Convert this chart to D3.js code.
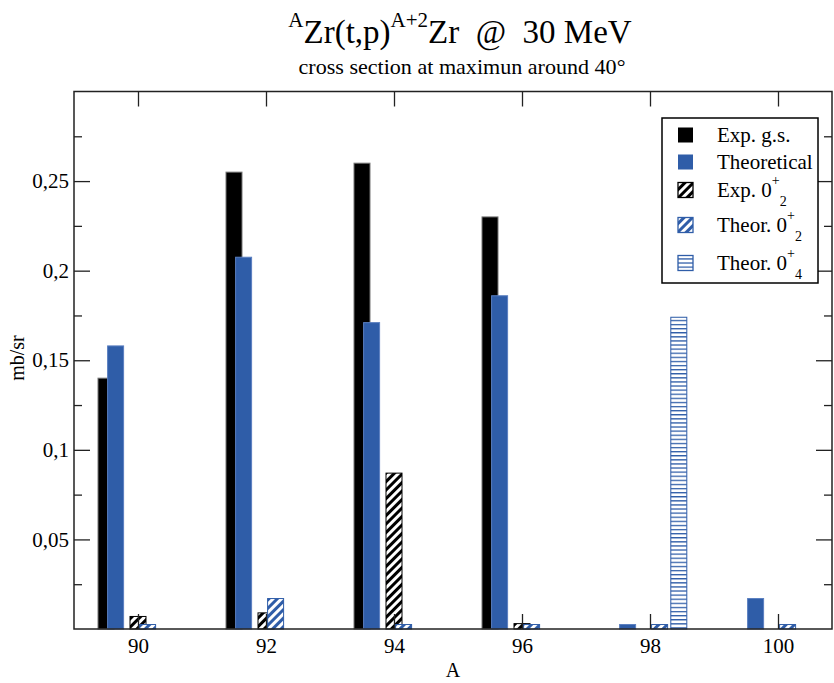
<!DOCTYPE html>
<html><head><meta charset="utf-8">
<script src="https://cdn.jsdelivr.net/npm/d3@7"></script>
<style>
body{margin:0;background:#fff}
text{font-family:"Liberation Serif","Times New Roman",serif;fill:#000}
</style></head><body>
<svg id="c" width="834" height="683" xmlns="http://www.w3.org/2000/svg"></svg>
<script>
// ---------------- data ----------------
const massNumbers = [90, 92, 94, 96, 98, 100];
const expGS   = [0.14, 0.255, 0.26, 0.23, 0, 0];
const theoGS  = [0.158, 0.2075, 0.171, 0.186, 0.0025, 0.017];
const exp02   = [0.007, 0.009, 0.087, 0.003, 0, 0];
const theo02  = [0.0025, 0.017, 0.0025, 0.0025, 0.0025, 0.0025];
const theo04  = [0, 0, 0, 0, 0.174, 0];
const yMajorTicks = [0.05, 0.1, 0.15, 0.2, 0.25];
const yTickLabels = ["0,05", "0,1", "0,15", "0,2", "0,25"];
const yMinorTicks = [0.025, 0.075, 0.125, 0.175, 0.225, 0.275];
const xTicks = [90, 92, 94, 96, 98, 100];
const xTickLabels = ["90", "92", "94", "96", "98", "100"];
const legendMain = ["Exp. g.s.", "Theoretical", "Exp. 0", "Theor. 0", "Theor. 0"];
const legendSup  = ["", "", "+", "+", "+"];
const legendSub  = ["", "", "2", "2", "4"];

// ---------------- layout ----------------
const svg = d3.select("#c");
const L = 74, R = 832, T = 91.5, B = 629;
const x = d3.scaleLinear().domain([89, 89 + (R - L) / 64]).range([L, R]);
const y = d3.scaleLinear().domain([0, 0.3]).range([B, T]);
const BLUE = "#2f5da8";
const unitW = 0.25; // bar width in A units

// patterns
const defs = svg.append("defs");
function diag(id, color) {
  const p = defs.append("pattern").attr("id", id).attr("patternUnits", "userSpaceOnUse")
    .attr("width", 6).attr("height", 6).attr("patternTransform", "rotate(45)");
  p.append("rect").attr("width", 6).attr("height", 6).attr("fill", "#fff");
  p.append("rect").attr("x", 0).attr("width", 3).attr("height", 6).attr("fill", color);
}
diag("hatchK", "#000");
diag("hatchB", BLUE);
const ph = defs.append("pattern").attr("id", "hatchH").attr("patternUnits", "userSpaceOnUse")
  .attr("width", 8).attr("height", 4.1).attr("y", 0);
ph.append("rect").attr("width", 8).attr("height", 4.1).attr("fill", "#fff");
ph.append("rect").attr("y", 0).attr("width", 8).attr("height", 1.3).attr("fill", BLUE);

const series = [
  {vals: expGS,  off: -0.5,  fill: "#000",          stroke: "#777"},
  {vals: theoGS, off: -0.35, fill: BLUE,            stroke: "#5a7fc0"},
  {vals: exp02,  off: 0,     fill: "url(#hatchK)",  stroke: "#000"},
  {vals: theo02, off: 0.15,  fill: "url(#hatchB)",  stroke: BLUE},
  {vals: theo04, off: 0.45,  fill: "url(#hatchH)",  stroke: BLUE}
];

const gBars = svg.append("g");
series.forEach(s => {
  gBars.append("g").selectAll("rect")
    .data(massNumbers.map((a, i) => ({a, v: s.vals[i]})).filter(d => d.v > 0))
    .join("rect")
    .attr("x", d => x(d.a + s.off - unitW / 2))
    .attr("width", d => x(d.a + unitW) - x(d.a))
    .attr("y", d => y(d.v))
    .attr("height", d => y(0) - y(d.v))
    .attr("fill", s.fill)
    .attr("stroke", s.stroke).attr("stroke-width", 1);
});

// axes
function styleAxis(g) {
  g.select(".domain").remove();
  g.selectAll(".tick line").attr("stroke", "#222").attr("stroke-width", 1.3);
  g.selectAll("text").style("font-family", '"Liberation Serif","Times New Roman",serif')
    .style("font-size", "21px").attr("fill", "#000");
}
svg.append("g").attr("transform", `translate(${L},0)`)
  .call(d3.axisLeft(y).tickValues(yMajorTicks).tickSize(-16).tickPadding(5)
    .tickFormat((d, i) => yTickLabels[i])).call(styleAxis);
svg.append("g").attr("transform", `translate(${L},0)`)
  .call(d3.axisLeft(y).tickValues(yMinorTicks).tickSize(-8).tickFormat("")).call(styleAxis);
svg.append("g").attr("transform", `translate(${R},0)`)
  .call(d3.axisRight(y).tickValues(yMajorTicks).tickSize(-16).tickFormat("")).call(styleAxis);
svg.append("g").attr("transform", `translate(${R},0)`)
  .call(d3.axisRight(y).tickValues(yMinorTicks).tickSize(-8).tickFormat("")).call(styleAxis);
svg.append("g").attr("transform", `translate(0,${B})`)
  .call(d3.axisBottom(x).tickValues(xTicks).tickSize(-15).tickPadding(9)
    .tickFormat((d, i) => xTickLabels[i])).call(styleAxis);
svg.append("g").attr("transform", `translate(0,${T})`)
  .call(d3.axisTop(x).tickValues(xTicks).tickSize(-15).tickFormat("")).call(styleAxis);

// frame
svg.append("rect").attr("x", L).attr("y", T).attr("width", R - L).attr("height", B - T)
  .attr("fill", "none").attr("stroke", "#222").attr("stroke-width", 1.5);

// axis titles
svg.append("text").attr("x", (L + R) / 2).attr("y", 677).attr("text-anchor", "middle")
  .style("font-size", "20px").text("A");
svg.append("text").attr("transform", "translate(24,358) rotate(-90)").attr("text-anchor", "middle")
  .style("font-size", "20px").text("mb/sr");

// title
const title = svg.append("text").attr("x", 460).attr("y", 43).attr("text-anchor", "middle")
  .style("font-size", "33px").style("white-space", "pre");
title.append("tspan").style("font-size", "21px").attr("dy", -16).text("A");
title.append("tspan").attr("dy", 16).text("Zr(t,p)");
title.append("tspan").style("font-size", "21px").attr("dy", -16).text("A+2");
title.append("tspan").attr("dy", 16).text("Zr  @  30 MeV");

svg.append("text").attr("x", 462).attr("y", 74).attr("text-anchor", "middle")
  .style("font-size", "21px").attr("textLength", 327).attr("lengthAdjust", "spacingAndGlyphs")
  .text("cross section at maximun around 40°");

// legend
const lg = svg.append("g");
lg.append("rect").attr("x", 662).attr("y", 118).attr("width", 156).attr("height", 165)
  .attr("fill", "#fff").attr("stroke", "#000").attr("stroke-width", 1.5);
const rowY = [135, 162, 190, 225, 263];
series.forEach((s, i) => {
  lg.append("rect").attr("x", 678).attr("y", rowY[i] - 7.5).attr("width", 15).attr("height", 15)
    .attr("fill", s.fill).attr("stroke", i < 2 ? "none" : s.stroke).attr("stroke-width", 1.3);
  const t = lg.append("text").attr("x", 717).attr("y", rowY[i] + 7).style("font-size", "21px");
  t.append("tspan").text(legendMain[i]);
  if (legendSup[i]) {
    t.append("tspan").style("font-size", "14px").attr("dy", -12).text(legendSup[i]);
    t.append("tspan").style("font-size", "14px").attr("dy", 21).text(legendSub[i]);
  }
});
</script>
</body></html>
